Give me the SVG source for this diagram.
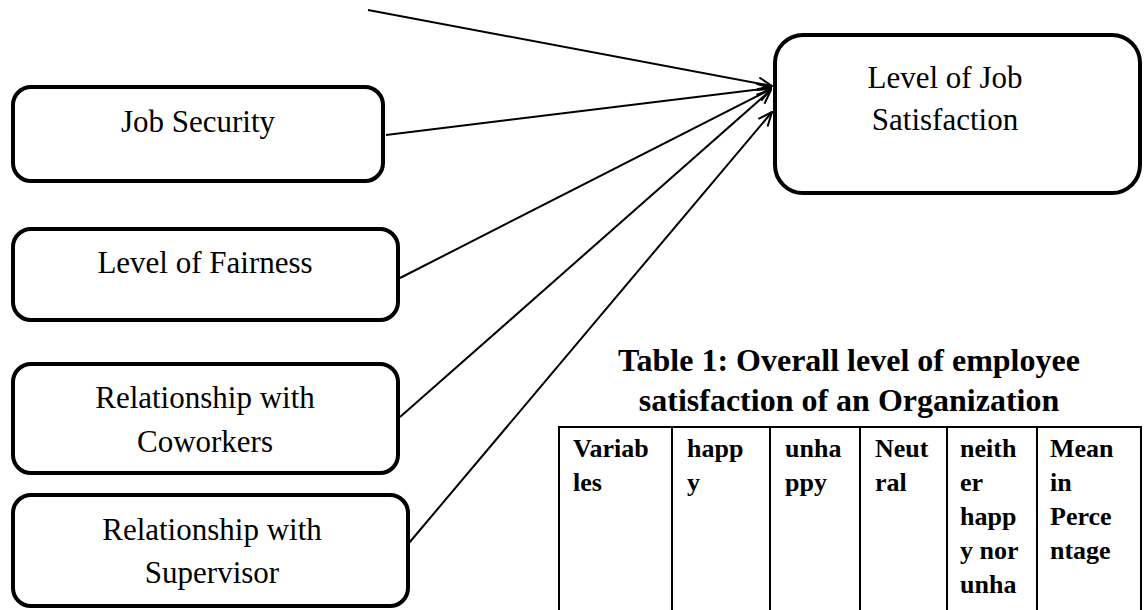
<svg xmlns="http://www.w3.org/2000/svg" width="1144" height="610" viewBox="0 0 1144 610">
  <style>
    .box { fill: #fff; stroke: #000; stroke-width: 4; }
    .lbl { font-family: "Liberation Serif", "Times New Roman", serif; font-size: 31px; fill: #000; text-anchor: middle; }
    .conn { stroke: #000; stroke-width: 2; fill: none; marker-end: url(#arrow); }
    .title { font-family: "Liberation Serif", "Times New Roman", serif; font-size: 32px; font-weight: bold; fill: #000; text-anchor: middle; }
    .cell { font-family: "Liberation Serif", "Times New Roman", serif; font-size: 26px; font-weight: bold; fill: #000; }
    .grid { stroke: #000; stroke-width: 2; fill: none; }
  </style>
  <defs>
    <marker id="arrow" viewBox="0 0 16 14" refX="15" refY="7" markerWidth="16" markerHeight="14" markerUnits="userSpaceOnUse" orient="auto">
      <path d="M1,1 L15,7 L1,13" stroke="#000" stroke-width="2" fill="none"/>
    </marker>
  </defs>
  <rect width="1144" height="610" fill="#fff"/>

  <g id="connectors">
    <line class="conn" x1="368" y1="10" x2="772" y2="86"/>
    <line class="conn" x1="386" y1="135" x2="771" y2="88"/>
    <line class="conn" x1="400" y1="278" x2="771" y2="89"/>
    <line class="conn" x1="400" y1="417" x2="771" y2="90"/>
    <line class="conn" x1="409" y1="543" x2="772" y2="112"/>
  </g>

  <g id="node-target">
    <rect class="box" x="775" y="35" width="365" height="158" rx="28" ry="28"/>
    <text class="lbl" x="945" y="88">Level of Job</text>
    <text class="lbl" x="945" y="130">Satisfaction</text>
  </g>

  <g id="node-job-security">
    <rect class="box" x="13" y="87" width="370" height="94" rx="18" ry="18"/>
    <text class="lbl" x="198" y="132">Job Security</text>
  </g>

  <g id="node-fairness">
    <rect class="box" x="13" y="229" width="385" height="91" rx="18" ry="18"/>
    <text class="lbl" x="205" y="273">Level of Fairness</text>
  </g>

  <g id="node-coworkers">
    <rect class="box" x="13" y="364" width="385" height="109" rx="18" ry="18"/>
    <text class="lbl" x="205" y="408">Relationship with</text>
    <text class="lbl" x="205" y="452">Coworkers</text>
  </g>

  <g id="node-supervisor">
    <rect class="box" x="13" y="495" width="395" height="111" rx="18" ry="18"/>
    <text class="lbl" x="212" y="540">Relationship with</text>
    <text class="lbl" x="212" y="583">Supervisor</text>
  </g>

  <g id="table-1">
    <text class="title" x="849" y="371">Table 1: Overall level of employee</text>
    <text class="title" x="849" y="411">satisfaction of an Organization</text>
    <path class="grid" d="M559,612 V427 H1141 V612 M672,427 V612 M770,427 V612 M860,427 V612 M947,427 V612 M1037,427 V612"/>
    <text class="cell" x="573" y="457">Variab</text>
    <text class="cell" x="573" y="491">les</text>
    <text class="cell" x="687" y="457">happ</text>
    <text class="cell" x="687" y="491">y</text>
    <text class="cell" x="785" y="457">unha</text>
    <text class="cell" x="785" y="491">ppy</text>
    <text class="cell" x="875" y="457">Neut</text>
    <text class="cell" x="875" y="491">ral</text>
    <text class="cell" x="960" y="457">neith</text>
    <text class="cell" x="960" y="491">er</text>
    <text class="cell" x="960" y="525">happ</text>
    <text class="cell" x="960" y="559">y nor</text>
    <text class="cell" x="960" y="593">unha</text>
    <text class="cell" x="1050" y="457">Mean</text>
    <text class="cell" x="1050" y="491">in</text>
    <text class="cell" x="1050" y="525">Perce</text>
    <text class="cell" x="1050" y="559">ntage</text>
  </g>
</svg>
